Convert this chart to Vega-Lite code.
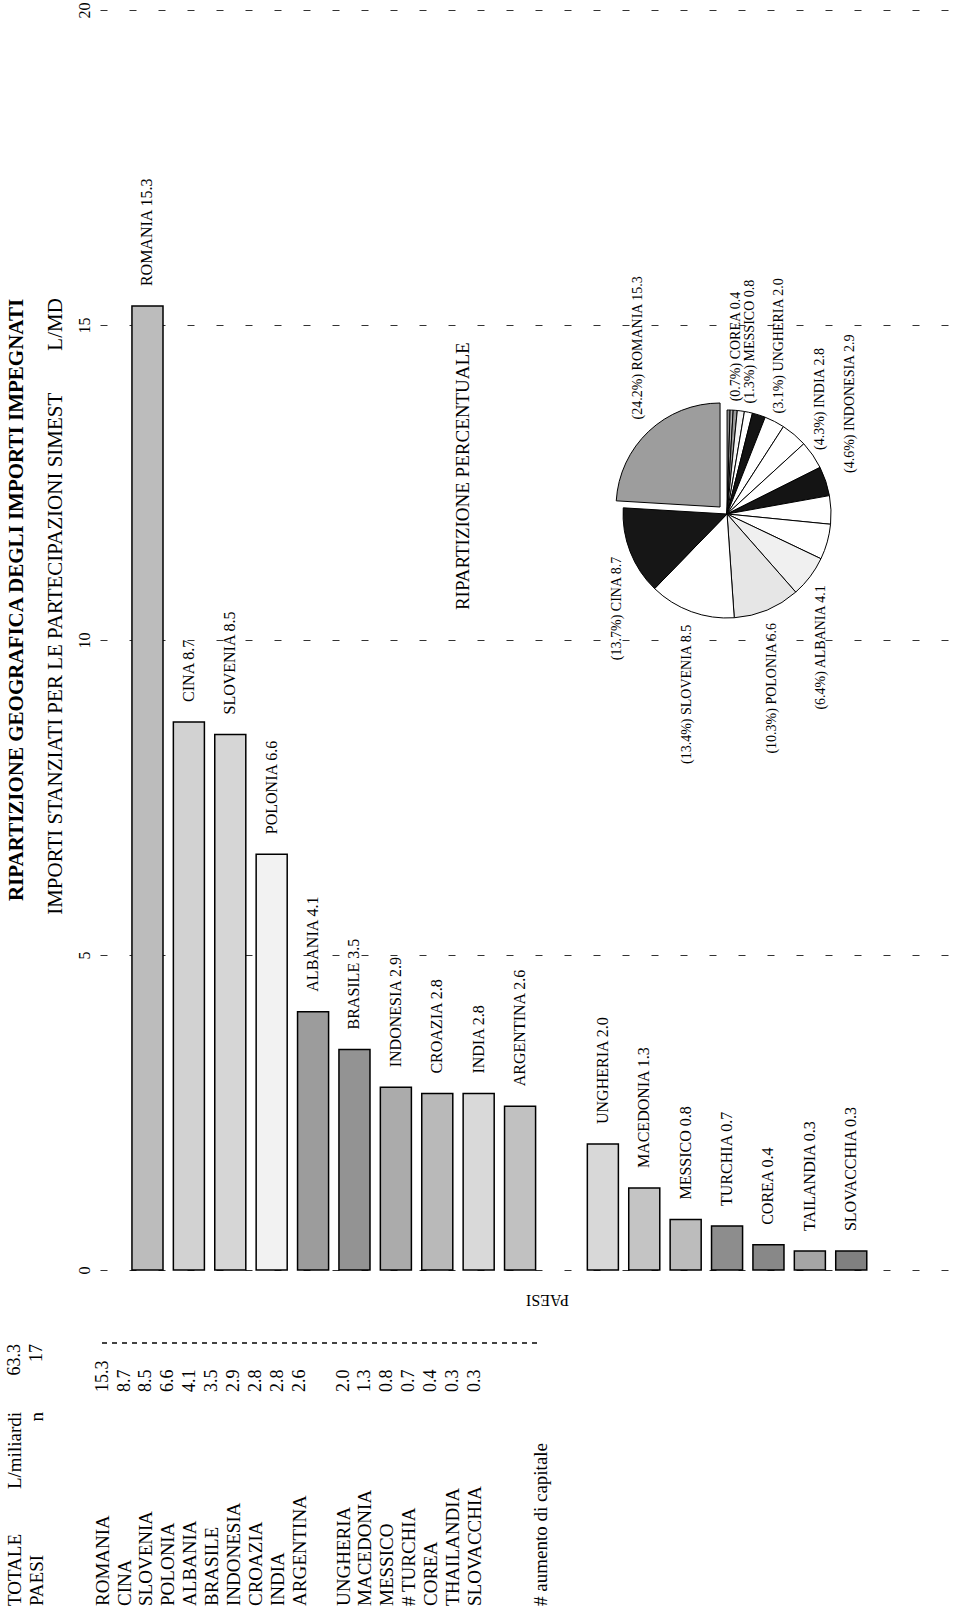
{
  "$schema": "https://vega.github.io/schema/vega-lite/v6.json",
  "width": 862,
  "height": 1260,
  "autosize": {"type": "none"},
  "padding": {"left": 100, "top": 10, "right": 0, "bottom": 341},
  "background": "#ffffff",
  "config": {"view": {"stroke": null}, "font": "Liberation Serif"},
  "title": {"text": "RIPARTIZIONE GEOGRAFICA DEGLI IMPORTI IMPEGNATI", "orient": "left", "anchor": "middle", "frame": "group", "offset": -21, "dx": 40, "font": "Liberation Serif", "fontSize": 21, "fontWeight": "bold", "color": "#000"},
  "datasets": {
    "bars": [
      {"country": "ROMANIA", "value": 15.3}, {"country": "CINA", "value": 8.7}, {"country": "SLOVENIA", "value": 8.5},
      {"country": "POLONIA", "value": 6.6}, {"country": "ALBANIA", "value": 4.1}, {"country": "BRASILE", "value": 3.5},
      {"country": "INDONESIA", "value": 2.9}, {"country": "CROAZIA", "value": 2.8}, {"country": "INDIA", "value": 2.8},
      {"country": "ARGENTINA", "value": 2.6}, {"country": "UNGHERIA", "value": 2.0}, {"country": "MACEDONIA", "value": 1.3},
      {"country": "MESSICO", "value": 0.8}, {"country": "TURCHIA", "value": 0.7}, {"country": "COREA", "value": 0.4},
      {"country": "TAILANDIA", "value": 0.3}, {"country": "SLOVACCHIA", "value": 0.3}
    ],
    "pie": [
      {"country": "SLOVACCHIA", "value": 0.3, "pct": null}, {"country": "TAILANDIA", "value": 0.3, "pct": null},
      {"country": "COREA", "value": 0.4, "pct": 0.7}, {"country": "TURCHIA", "value": 0.7, "pct": null},
      {"country": "MESSICO", "value": 0.8, "pct": 1.3}, {"country": "MACEDONIA", "value": 1.3, "pct": null},
      {"country": "UNGHERIA", "value": 2.0, "pct": 3.1}, {"country": "ARGENTINA", "value": 2.6, "pct": null},
      {"country": "INDIA", "value": 2.8, "pct": 4.3}, {"country": "INDONESIA", "value": 2.9, "pct": 4.6},
      {"country": "CROAZIA", "value": 2.8, "pct": null}, {"country": "BRASILE", "value": 3.5, "pct": null},
      {"country": "ALBANIA", "value": 4.1, "pct": 6.4}, {"country": "POLONIA", "value": 6.6, "pct": 10.3},
      {"country": "SLOVENIA", "value": 8.5, "pct": 13.4}, {"country": "CINA", "value": 8.7, "pct": 13.7},
      {"country": "ROMANIA", "value": 15.3, "pct": 24.2}
    ],
    "table": [
      {"slot": "TOTALE", "name": "TOTALE", "mid": "L/miliardi", "hval": "63.3"},
      {"slot": "PAESI", "name": "PAESI", "mid": "n", "hval": "17"},
      {"slot": "ROMANIA", "name": "ROMANIA", "val": 15.3}, {"slot": "CINA", "name": "CINA", "val": 8.7},
      {"slot": "SLOVENIA", "name": "SLOVENIA", "val": 8.5}, {"slot": "POLONIA", "name": "POLONIA", "val": 6.6},
      {"slot": "ALBANIA", "name": "ALBANIA", "val": 4.1}, {"slot": "BRASILE", "name": "BRASILE", "val": 3.5},
      {"slot": "INDONESIA", "name": "INDONESIA", "val": 2.9}, {"slot": "CROAZIA", "name": "CROAZIA", "val": 2.8},
      {"slot": "INDIA", "name": "INDIA", "val": 2.8}, {"slot": "ARGENTINA", "name": "ARGENTINA", "val": 2.6},
      {"slot": "UNGHERIA", "name": "UNGHERIA", "val": 2.0}, {"slot": "MACEDONIA", "name": "MACEDONIA", "val": 1.3},
      {"slot": "MESSICO", "name": "MESSICO", "val": 0.8}, {"slot": "TURCHIA", "name": "# TURCHIA", "val": 0.7},
      {"slot": "COREA", "name": "COREA", "val": 0.4}, {"slot": "THAILANDIA", "name": "THAILANDIA", "val": 0.3},
      {"slot": "SLOVACCHIA", "name": "SLOVACCHIA", "val": 0.3},
      {"slot": "NOTE", "name": "# aumento di capitale"}
    ]
  },
  "layer": [
    {
      "data": {"name": "bars"},
      "mark": {"type": "bar", "stroke": "#000", "strokeWidth": 1.5},
      "encoding": {
        "x": {
          "field": "country", "type": "nominal", "sort": null,
          "scale": {"type": "band", "domain": ["ROMANIA", "CINA", "SLOVENIA", "POLONIA", "ALBANIA", "BRASILE", "INDONESIA", "CROAZIA", "INDIA", "ARGENTINA", " ", "UNGHERIA", "MACEDONIA", "MESSICO", "TURCHIA", "COREA", "TAILANDIA", "SLOVACCHIA", "  ", "   "], "paddingInner": 0.25, "paddingOuter": 0.536, "align": 0.72, "round": false},
          "axis": {"domain": false, "ticks": false, "labels": false, "grid": false, "title": "PAESI", "titleAngle": 180, "titleFont": "Liberation Serif", "titleFontSize": 16, "titleFontWeight": "normal", "titleColor": "#000", "titleAlign": "center", "titleBaseline": "middle", "titleX": 447, "titleY": 29}
        },
        "y": {
          "field": "value", "type": "quantitative", "scale": {"domain": [0, 20], "nice": false},
          "axis": {"values": [0, 5, 10, 15, 20], "format": "d", "grid": true, "gridDash": [7, 22], "gridColor": "#333", "gridWidth": 1, "domain": false, "ticks": false, "labelAngle": 270, "labelAlign": "center", "labelBaseline": "middle", "labelPadding": 16, "labelFont": "Liberation Serif", "labelFontSize": 16, "labelColor": "#000", "title": "IMPORTI STANZIATI PER LE PARTECIPAZIONI SIMEST\u00a0\u00a0\u00a0\u00a0\u00a0\u00a0\u00a0\u00a0L/MD", "titleFont": "Liberation Serif", "titleFontSize": 21, "titleFontWeight": "normal", "titleColor": "#000", "titleAngle": 270, "titleAlign": "center", "titleBaseline": "middle", "titleX": -45, "titleY": 596}
        },
        "fill": {
          "field": "country", "type": "nominal",
          "scale": {"domain": ["ROMANIA", "CINA", "SLOVENIA", "POLONIA", "ALBANIA", "BRASILE", "INDONESIA", "CROAZIA", "INDIA", "ARGENTINA", "UNGHERIA", "MACEDONIA", "MESSICO", "TURCHIA", "COREA", "TAILANDIA", "SLOVACCHIA"], "range": ["#bcbcbc", "#d2d2d2", "#d6d6d6", "#f2f2f2", "#9c9c9c", "#939393", "#ababab", "#b9b9b9", "#d9d9d9", "#c1c1c1", "#d8d8d8", "#c4c4c4", "#bcbcbc", "#8d8d8d", "#888888", "#a5a5a5", "#808080"]},
          "legend": null
        }
      }
    },
    {
      "data": {"name": "bars"},
      "transform": [{"calculate": "datum.country + ' ' + format(datum.value, '.1f')", "as": "lbl"}],
      "mark": {"type": "text", "angle": 270, "align": "left", "baseline": "middle", "dx": 20, "fontSize": 16, "font": "Liberation Serif", "color": "#000"},
      "encoding": {
        "x": {"field": "country", "type": "nominal", "sort": null, "scale": {"type": "band", "domain": ["ROMANIA", "CINA", "SLOVENIA", "POLONIA", "ALBANIA", "BRASILE", "INDONESIA", "CROAZIA", "INDIA", "ARGENTINA", " ", "UNGHERIA", "MACEDONIA", "MESSICO", "TURCHIA", "COREA", "TAILANDIA", "SLOVACCHIA", "  ", "   "], "paddingInner": 0.25, "paddingOuter": 0.536, "align": 0.72, "round": false}, "axis": null},
        "y": {"field": "value", "type": "quantitative", "scale": {"domain": [0, 20], "nice": false}},
        "text": {"field": "lbl"}
      }
    },
    {
      "data": {"name": "pie"},
      "transform": [{"window": [{"op": "row_number", "as": "ord"}]}],
      "mark": {"type": "arc", "outerRadius": 104, "stroke": "#000", "strokeWidth": 1},
      "encoding": {
        "x": {"datum": "TURCHIA", "type": "nominal", "scale": {"type": "band", "domain": ["ROMANIA", "CINA", "SLOVENIA", "POLONIA", "ALBANIA", "BRASILE", "INDONESIA", "CROAZIA", "INDIA", "ARGENTINA", " ", "UNGHERIA", "MACEDONIA", "MESSICO", "TURCHIA", "COREA", "TAILANDIA", "SLOVACCHIA", "  ", "   "], "paddingInner": 0.25, "paddingOuter": 0.536, "align": 0.72, "round": false}, "axis": null},
        "y": {"datum": 12, "type": "quantitative", "scale": {"domain": [0, 20], "nice": false}},
        "theta": {"field": "value", "type": "quantitative", "stack": true},
        "order": {"field": "ord", "type": "quantitative"},
        "color": {
          "field": "country", "type": "nominal",
          "scale": {"domain": ["SLOVACCHIA", "TAILANDIA", "COREA", "TURCHIA", "MESSICO", "MACEDONIA", "UNGHERIA", "ARGENTINA", "INDIA", "INDONESIA", "CROAZIA", "BRASILE", "ALBANIA", "POLONIA", "SLOVENIA", "CINA", "ROMANIA"], "range": ["#8a8a8a", "#b0b0b0", "#9a9a9a", "#f4f4f4", "#ffffff", "#141414", "#ffffff", "#ffffff", "#ffffff", "#141414", "#ffffff", "#ffffff", "#f0f0f0", "#e6e6e6", "#ffffff", "#161616", "#9d9d9d"]},
          "legend": null
        },
        "opacity": {"condition": {"test": "datum.country === 'ROMANIA'", "value": 0}, "value": 1}
      }
    },
    {
      "data": {"name": "pie"},
      "transform": [{"window": [{"op": "row_number", "as": "ord"}]}],
      "mark": {"type": "arc", "outerRadius": 104, "stroke": "#000", "strokeWidth": 1, "xOffset": -7, "yOffset": -7},
      "encoding": {
        "x": {"datum": "TURCHIA", "type": "nominal", "scale": {"type": "band", "domain": ["ROMANIA", "CINA", "SLOVENIA", "POLONIA", "ALBANIA", "BRASILE", "INDONESIA", "CROAZIA", "INDIA", "ARGENTINA", " ", "UNGHERIA", "MACEDONIA", "MESSICO", "TURCHIA", "COREA", "TAILANDIA", "SLOVACCHIA", "  ", "   "], "paddingInner": 0.25, "paddingOuter": 0.536, "align": 0.72, "round": false}, "axis": null},
        "y": {"datum": 12, "type": "quantitative", "scale": {"domain": [0, 20], "nice": false}},
        "theta": {"field": "value", "type": "quantitative", "stack": true},
        "order": {"field": "ord", "type": "quantitative"},
        "color": {"field": "country", "type": "nominal", "legend": null},
        "opacity": {"condition": {"test": "datum.country === 'ROMANIA'", "value": 1}, "value": 0}
      }
    },
    {
      "data": {"name": "pie"},
      "transform": [
        {"window": [{"op": "row_number", "as": "ord"}]},
        {"calculate": "indexof(['COREA','MESSICO','UNGHERIA','INDIA'], datum.country) >= 0 ? '(' + format(datum.pct, '.1f') + '%) ' + datum.country + '  ' + format(datum.value, '.1f') : ''", "as": "plab"}
      ],
      "mark": {"type": "text", "radius": 113, "angle": 270, "align": "left", "baseline": "middle", "fontSize": 14, "font": "Liberation Serif", "color": "#000"},
      "encoding": {
        "x": {"datum": "TURCHIA", "type": "nominal", "scale": {"type": "band", "domain": ["ROMANIA", "CINA", "SLOVENIA", "POLONIA", "ALBANIA", "BRASILE", "INDONESIA", "CROAZIA", "INDIA", "ARGENTINA", " ", "UNGHERIA", "MACEDONIA", "MESSICO", "TURCHIA", "COREA", "TAILANDIA", "SLOVACCHIA", "  ", "   "], "paddingInner": 0.25, "paddingOuter": 0.536, "align": 0.72, "round": false}, "axis": null},
        "y": {"datum": 12, "type": "quantitative", "scale": {"domain": [0, 20], "nice": false}},
        "theta": {"field": "value", "type": "quantitative", "stack": true},
        "order": {"field": "ord", "type": "quantitative"},
        "text": {"field": "plab"}
      }
    },
    {
      "data": {"name": "pie"},
      "transform": [
        {"window": [{"op": "row_number", "as": "ord"}]},
        {"calculate": "indexof(['ROMANIA','INDONESIA'], datum.country) >= 0 ? '(' + format(datum.pct, '.1f') + '%) ' + datum.country + '  ' + format(datum.value, '.1f') : ''", "as": "plab"}
      ],
      "mark": {"type": "text", "radius": 130, "angle": 270, "align": "left", "baseline": "middle", "fontSize": 14, "font": "Liberation Serif", "color": "#000"},
      "encoding": {
        "x": {"datum": "TURCHIA", "type": "nominal", "scale": {"type": "band", "domain": ["ROMANIA", "CINA", "SLOVENIA", "POLONIA", "ALBANIA", "BRASILE", "INDONESIA", "CROAZIA", "INDIA", "ARGENTINA", " ", "UNGHERIA", "MACEDONIA", "MESSICO", "TURCHIA", "COREA", "TAILANDIA", "SLOVACCHIA", "  ", "   "], "paddingInner": 0.25, "paddingOuter": 0.536, "align": 0.72, "round": false}, "axis": null},
        "y": {"datum": 12, "type": "quantitative", "scale": {"domain": [0, 20], "nice": false}},
        "theta": {"field": "value", "type": "quantitative", "stack": true},
        "order": {"field": "ord", "type": "quantitative"},
        "text": {"field": "plab"}
      }
    },
    {
      "data": {"name": "pie"},
      "transform": [
        {"window": [{"op": "row_number", "as": "ord"}]},
        {"calculate": "indexof(['CINA','SLOVENIA','POLONIA','ALBANIA'], datum.country) >= 0 ? '(' + format(datum.pct, '.1f') + '%) ' + datum.country + '  ' + format(datum.value, '.1f') : ''", "as": "plab"}
      ],
      "mark": {"type": "text", "radius": 118, "angle": 270, "align": "right", "baseline": "middle", "fontSize": 14, "font": "Liberation Serif", "color": "#000"},
      "encoding": {
        "x": {"datum": "TURCHIA", "type": "nominal", "scale": {"type": "band", "domain": ["ROMANIA", "CINA", "SLOVENIA", "POLONIA", "ALBANIA", "BRASILE", "INDONESIA", "CROAZIA", "INDIA", "ARGENTINA", " ", "UNGHERIA", "MACEDONIA", "MESSICO", "TURCHIA", "COREA", "TAILANDIA", "SLOVACCHIA", "  ", "   "], "paddingInner": 0.25, "paddingOuter": 0.536, "align": 0.72, "round": false}, "axis": null},
        "y": {"datum": 12, "type": "quantitative", "scale": {"domain": [0, 20], "nice": false}},
        "theta": {"field": "value", "type": "quantitative", "stack": true},
        "order": {"field": "ord", "type": "quantitative"},
        "text": {"field": "plab"}
      }
    },
    {
      "data": {"values": [{"t": "RIPARTIZIONE PERCENTUALE"}]},
      "mark": {"type": "text", "angle": 270, "align": "center", "baseline": "middle", "fontSize": 19, "font": "Liberation Serif", "color": "#000"},
      "encoding": {
        "x": {"datum": "INDIA", "type": "nominal", "bandPosition": 0, "scale": {"type": "band", "domain": ["ROMANIA", "CINA", "SLOVENIA", "POLONIA", "ALBANIA", "BRASILE", "INDONESIA", "CROAZIA", "INDIA", "ARGENTINA", " ", "UNGHERIA", "MACEDONIA", "MESSICO", "TURCHIA", "COREA", "TAILANDIA", "SLOVACCHIA", "  ", "   "], "paddingInner": 0.25, "paddingOuter": 0.536, "align": 0.72, "round": false}, "axis": null},
        "y": {"datum": 12.6, "type": "quantitative", "scale": {"domain": [0, 20], "nice": false}},
        "text": {"field": "t"}
      }
    },
    {
      "data": {"name": "table"},
      "mark": {"type": "text", "angle": 270, "align": "left", "baseline": "middle", "fontSize": 19, "font": "Liberation Serif", "color": "#000"},
      "encoding": {
        "x": {"field": "slot", "type": "nominal", "scale": {"type": "point", "domain": ["TOTALE", "PAESI", "b1", "b2", "ROMANIA", "CINA", "SLOVENIA", "POLONIA", "ALBANIA", "BRASILE", "INDONESIA", "CROAZIA", "INDIA", "ARGENTINA", "b3", "UNGHERIA", "MACEDONIA", "MESSICO", "TURCHIA", "COREA", "THAILANDIA", "SLOVACCHIA", "b4", "b5", "NOTE"], "range": [-85, 440.6], "padding": 0}, "axis": null},
        "y": {"datum": -5.333, "type": "quantitative", "scale": {"domain": [0, 20], "nice": false}},
        "text": {"field": "name"}
      }
    },
    {
      "data": {"name": "table"},
      "transform": [{"filter": "isValid(datum.mid)"}],
      "mark": {"type": "text", "angle": 270, "align": "right", "baseline": "middle", "fontSize": 19, "font": "Liberation Serif", "color": "#000"},
      "encoding": {
        "x": {"field": "slot", "type": "nominal", "scale": {"type": "point", "domain": ["TOTALE", "PAESI", "b1", "b2", "ROMANIA", "CINA", "SLOVENIA", "POLONIA", "ALBANIA", "BRASILE", "INDONESIA", "CROAZIA", "INDIA", "ARGENTINA", "b3", "UNGHERIA", "MACEDONIA", "MESSICO", "TURCHIA", "COREA", "THAILANDIA", "SLOVACCHIA", "b4", "b5", "NOTE"], "range": [-85, 440.6], "padding": 0}, "axis": null},
        "y": {"datum": -2.254, "type": "quantitative", "scale": {"domain": [0, 20], "nice": false}},
        "text": {"field": "mid"}
      }
    },
    {
      "data": {"name": "table"},
      "transform": [{"filter": "isValid(datum.hval)"}],
      "mark": {"type": "text", "angle": 270, "align": "right", "baseline": "middle", "fontSize": 18, "font": "Liberation Serif", "color": "#000"},
      "encoding": {
        "x": {"field": "slot", "type": "nominal", "scale": {"type": "point", "domain": ["TOTALE", "PAESI", "b1", "b2", "ROMANIA", "CINA", "SLOVENIA", "POLONIA", "ALBANIA", "BRASILE", "INDONESIA", "CROAZIA", "INDIA", "ARGENTINA", "b3", "UNGHERIA", "MACEDONIA", "MESSICO", "TURCHIA", "COREA", "THAILANDIA", "SLOVACCHIA", "b4", "b5", "NOTE"], "range": [-85, 440.6], "padding": 0}, "axis": null},
        "y": {"datum": -1.175, "type": "quantitative", "scale": {"domain": [0, 20], "nice": false}},
        "text": {"field": "hval"}
      }
    },
    {
      "data": {"name": "table"},
      "transform": [{"filter": "isValid(datum.val)"}],
      "mark": {"type": "text", "angle": 270, "align": "left", "baseline": "middle", "fontSize": 18, "font": "Liberation Serif", "color": "#000"},
      "encoding": {
        "x": {"field": "slot", "type": "nominal", "scale": {"type": "point", "domain": ["TOTALE", "PAESI", "b1", "b2", "ROMANIA", "CINA", "SLOVENIA", "POLONIA", "ALBANIA", "BRASILE", "INDONESIA", "CROAZIA", "INDIA", "ARGENTINA", "b3", "UNGHERIA", "MACEDONIA", "MESSICO", "TURCHIA", "COREA", "THAILANDIA", "SLOVACCHIA", "b4", "b5", "NOTE"], "range": [-85, 440.6], "padding": 0}, "axis": null},
        "y": {"datum": -1.937, "type": "quantitative", "scale": {"domain": [0, 20], "nice": false}},
        "text": {"field": "val", "format": ".1f"}
      }
    },
    {
      "data": {"name": "table"},
      "mark": {"type": "rule", "strokeDash": [4, 6], "color": "#444", "strokeWidth": 1},
      "encoding": {
        "x": {"datum": "ROMANIA", "type": "nominal", "scale": {"type": "point", "domain": ["TOTALE", "PAESI", "b1", "b2", "ROMANIA", "CINA", "SLOVENIA", "POLONIA", "ALBANIA", "BRASILE", "INDONESIA", "CROAZIA", "INDIA", "ARGENTINA", "b3", "UNGHERIA", "MACEDONIA", "MESSICO", "TURCHIA", "COREA", "THAILANDIA", "SLOVACCHIA", "b4", "b5", "NOTE"], "range": [-85, 440.6], "padding": 0}, "axis": null},
        "x2": {"datum": "NOTE"},
        "y": {"datum": -1.159, "type": "quantitative", "scale": {"domain": [0, 20], "nice": false}}
      }
    }
  ],
  "resolve": {"scale": {"x": "independent"}, "axis": {"x": "independent"}}
}
